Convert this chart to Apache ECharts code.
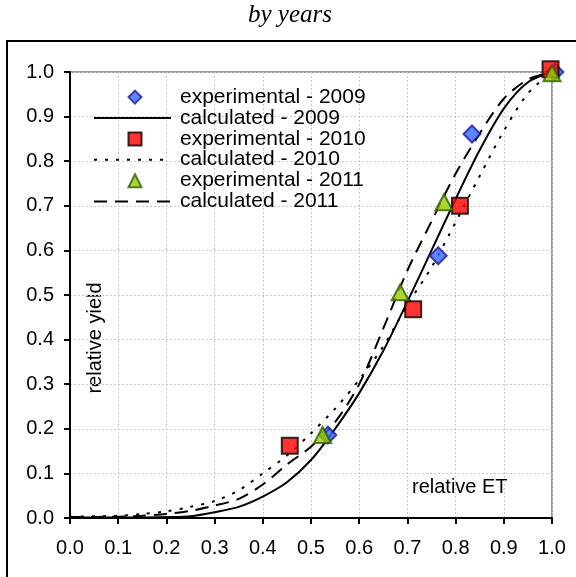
<!DOCTYPE html>
<html>
<head>
<meta charset="utf-8">
<script src="https://cdn.jsdelivr.net/npm/echarts@6/dist/echarts.min.js"></script>
<style>
  html, body { margin: 0; padding: 0; background: #fff; }
  #chart { width: 576px; height: 577px; }
</style>
</head>
<body>
<div id="chart"></div>
<script>
// Relative ET on the x axis, relative yield on the y axis
const xTicks = [0, 0.1, 0.2, 0.3, 0.4, 0.5, 0.6, 0.7, 0.8, 0.9, 1.0];

// Field measurements: [relative ET, relative yield]
const exp2009 = [[0.535, 0.186], [0.764, 0.588], [0.834, 0.861], [1.006, 1.0]];
const exp2010 = [[0.456, 0.162], [0.712, 0.468], [0.809, 0.700], [0.997, 1.006]];
const exp2011 = [[0.524, 0.186], [0.685, 0.506], [0.776, 0.708], [1.0, 0.997]];

// Model curves sampled along relative ET
const calcX = [0, 0.1, 0.15, 0.2, 0.25, 0.3, 0.35, 0.4, 0.45, 0.5, 0.55, 0.6, 0.65, 0.7, 0.75, 0.8, 0.85, 0.9, 0.95, 1.0];
const calc2009 = [0.001, 0.001, 0.001, 0.002, 0.004, 0.013, 0.025, 0.048, 0.08, 0.13, 0.2, 0.28, 0.375, 0.485, 0.6, 0.715, 0.825, 0.918, 0.977, 1.0];
const calc2010 = [0.003, 0.005, 0.009, 0.015, 0.025, 0.038, 0.062, 0.1, 0.14, 0.19, 0.245, 0.31, 0.385, 0.478, 0.562, 0.663, 0.767, 0.868, 0.952, 1.0];
const calc2011 = [0.002, 0.003, 0.005, 0.009, 0.016, 0.028, 0.043, 0.075, 0.12, 0.16, 0.215, 0.3, 0.425, 0.555, 0.665, 0.772, 0.862, 0.94, 0.983, 1.0];

const expNames = ['experimental - 2009', 'experimental - 2010', 'experimental - 2011'];
const calcNames = ['calculated - 2009', 'calculated - 2010', 'calculated - 2011'];

const pair = (ys) => calcX.map((x, i) => [x, ys[i]]);
const FONT = '"Liberation Sans", Arial, sans-serif';
const ROW = 20.8;     // legend row pitch
const LEGEND_TOP = 86.6;
const LEGEND_TEXT_X = 179;

const chart = echarts.init(document.getElementById('chart'), null, { renderer: 'canvas' });

const axisCommon = {
  type: 'value',
  min: 0,
  max: 1,
  interval: 0.1,
  axisLine: { show: true, lineStyle: { color: '#000', width: 2 } },
  axisTick: { show: true, inside: false, length: 6, lineStyle: { color: '#000', width: 2 } },
  axisLabel: {
    color: '#000', fontFamily: FONT, fontSize: 20,
    formatter: (v) => v.toFixed(1)
  },
  splitLine: { show: true, lineStyle: { color: '#c8c8c8', type: [2, 2], width: 1 } }
};

const legendText = (iconRight) => ({
  fontFamily: FONT, fontSize: 21, color: '#000', lineHeight: ROW,
  padding: [0, 0, 0, LEGEND_TEXT_X - iconRight - 5]
});

chart.setOption({
  animation: false,
  backgroundColor: '#fff',
  title: {
    text: 'by years',
    left: 290, top: 3, textAlign: 'center', padding: 0,
    textStyle: { fontFamily: '"Liberation Serif", "Times New Roman", serif', fontStyle: 'italic', fontWeight: 'normal', fontSize: 25, color: '#000' }
  },
  grid: {
    left: 70, right: 24, top: 72, bottom: 59,
    show: true, borderColor: '#999', borderWidth: 2, backgroundColor: 'transparent'
  },
  xAxis: Object.assign({}, axisCommon, {
    axisLabel: Object.assign({}, axisCommon.axisLabel, { margin: 20 })
  }),
  yAxis: Object.assign({}, axisCommon, {
    axisLabel: Object.assign({}, axisCommon.axisLabel, { margin: 16 })
  }),
  legend: [
    {
      // marker entries, centred over the line samples
      data: expNames,
      orient: 'vertical',
      left: 127.5, top: LEGEND_TOP, padding: 0,
      itemWidth: 13, itemHeight: 13, itemGap: ROW,
      textStyle: legendText(127.5 + 13),
      selectedMode: false
    },
    {
      // line-style entries
      data: calcNames,
      orient: 'vertical',
      left: 93, top: LEGEND_TOP + ROW, padding: 0,
      itemWidth: 77, itemHeight: 13, itemGap: ROW,
      textStyle: legendText(93 + 77),
      selectedMode: false
    }
  ],
  graphic: [
    {
      type: 'rect', silent: true, z: -1,
      shape: { x: 7, y: 41, width: 600, height: 600 },
      style: { fill: 'none', stroke: '#000', lineWidth: 2 }
    },
    {
      type: 'text', left: 412, top: 477,
      style: { text: 'relative ET', font: '20px ' + FONT, fill: '#000' }
    },
    {
      type: 'text', x: 95, y: 338, rotation: Math.PI / 2,
      style: { text: 'relative yield', font: '20px ' + FONT, fill: '#000', align: 'center', verticalAlign: 'middle' }
    }
  ],
  series: [
    {
      name: expNames[0], type: 'scatter', data: exp2009, symbol: 'diamond', symbolSize: 17, clip: false, z: 5,
      itemStyle: { color: '#3366ff', borderColor: '#1a1a99', borderWidth: 2 }
    },
    {
      name: calcNames[0], type: 'line', data: pair(calc2009), symbol: 'none', smooth: 0.3, z: 3,
      itemStyle: { color: 'rgba(0,0,0,0)' },
      lineStyle: { color: '#000', width: 2, type: 'solid' }
    },
    {
      name: expNames[1], type: 'scatter', data: exp2010, symbol: 'rect', symbolSize: 16, clip: false, z: 6,
      itemStyle: { color: '#ff0000', borderColor: '#000', borderWidth: 2 }
    },
    {
      name: calcNames[1], type: 'line', data: pair(calc2010), symbol: 'none', smooth: 0.3, z: 3,
      itemStyle: { color: 'rgba(0,0,0,0)' },
      lineStyle: { color: '#000', width: 2, type: [3, 8] }
    },
    {
      name: expNames[2], type: 'scatter', data: exp2011, symbol: 'triangle', symbolSize: [17, 16], clip: false, z: 7,
      itemStyle: { color: '#99cc00', borderColor: '#2e5c00', borderWidth: 2 }
    },
    {
      name: calcNames[2], type: 'line', data: pair(calc2011), symbol: 'none', smooth: 0.3, z: 3,
      itemStyle: { color: 'rgba(0,0,0,0)' },
      lineStyle: { color: '#000', width: 2, type: [13, 8] }
    }
  ]
});
</script>
</body>
</html>
